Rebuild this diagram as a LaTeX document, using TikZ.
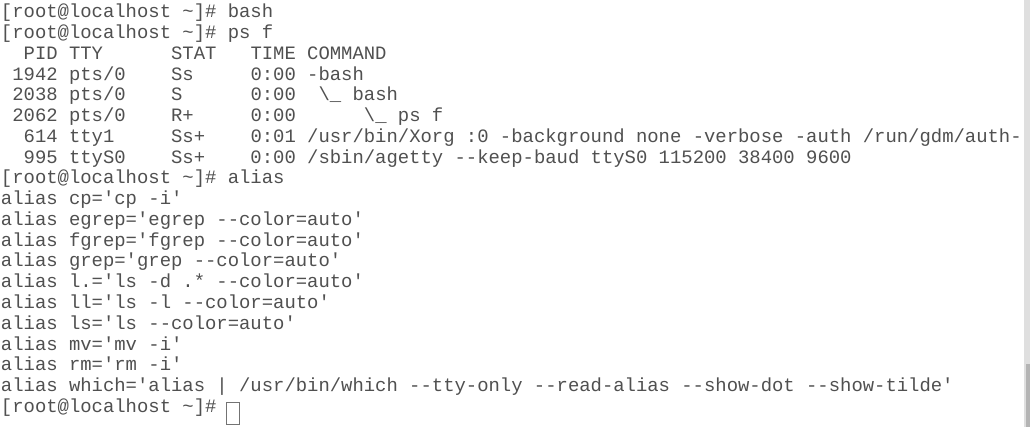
\documentclass[tikz,border=0pt]{standalone}
\usepackage{fontspec}
\setmonofont{Liberation Mono}
\usetikzlibrary{calc}
\definecolor{termtext}{HTML}{505050}
\definecolor{scrolltrack}{HTML}{DFDFDF}
\definecolor{scrollthumb}{HTML}{B4B4B4}
\def\tl{\textasciitilde}
\def\prompt{[root@localhost \tl]\#}

\begin{document}
\begin{tikzpicture}[x=1pt, y=-1pt,
		line/.style={anchor=base west, inner sep=0pt, outer sep=0pt, text=termtext,
			font=\ttfamily\frenchspacing\fontsize{18.9}{20.75}\selectfont}]
		%%%%% START %%%%%
		
		\useasboundingbox[fill=white] (0, 0) rectangle (1030, 427);
		
		\node[line] (l1) at (1, 18.0) {\prompt{} bash};
		\node[line] (l2) at (1, 38.75) {\prompt{} ps f};
		\node[line] (l3) at (1, 59.5) {~~PID TTY~~~~~~STAT~~~TIME COMMAND};
		\node[line] (l4) at (1, 80.25) {~1942 pts/0~~~~Ss~~~~~0:00 -bash};
		\node[line] (l5) at (1, 101.0) {~2038 pts/0~~~~S~~~~~~0:00~~\textbackslash\_ bash};
		\node[line] (l6) at (1, 121.75) {~2062 pts/0~~~~R+~~~~~0:00~~~~~~\textbackslash\_ ps f};
		\node[line] (l7) at (1, 142.5) {~~614 tty1~~~~~Ss+~~~~0:01 /usr/bin/Xorg :0 -background none -verbose -auth /run/gdm/auth-};
		\node[line] (l8) at (1, 163.25) {~~995 ttyS0~~~~Ss+~~~~0:00 /sbin/agetty --keep-baud ttyS0 115200 38400 9600};
		
		\node[line] (l9) at (1, 184.0) {\prompt{} alias};
		\node[line] (l10) at (1, 204.75) {alias cp='cp -i'};
		\node[line] (l11) at (1, 225.5) {alias egrep='egrep --color=auto'};
		\node[line] (l12) at (1, 246.25) {alias fgrep='fgrep --color=auto'};
		\node[line] (l13) at (1, 267.0) {alias grep='grep --color=auto'};
		\node[line] (l14) at (1, 287.75) {alias l.='ls -d .* --color=auto'};
		\node[line] (l15) at (1, 308.5) {alias ll='ls -l --color=auto'};
		\node[line] (l16) at (1, 329.25) {alias ls='ls --color=auto'};
		\node[line] (l17) at (1, 350.0) {alias mv='mv -i'};
		\node[line] (l18) at (1, 370.75) {alias rm='rm -i'};
		\node[line] (l19) at (1, 391.5) {alias which='alias | /usr/bin/which --tty-only --read-alias --show-dot --show-tilde'};
		\node[line] (l20) at (1, 412.25) {\prompt{}};
		
		% cursor
		\node[draw=black!55, line width=0.8pt, inner sep=0pt, minimum width=12.5pt, minimum height=22pt, anchor=north west] (cursor) at (226, 402) {};
		
		% scroll bar
		\draw[fill=scrolltrack, draw=none] (1024, 0) rectangle (1030, 427);
		\draw[fill=scrollthumb, draw=none] (1026, 364) rectangle (1030, 427);
		
		%%%%% END %%%%%
	\end{tikzpicture}
\end{document}
